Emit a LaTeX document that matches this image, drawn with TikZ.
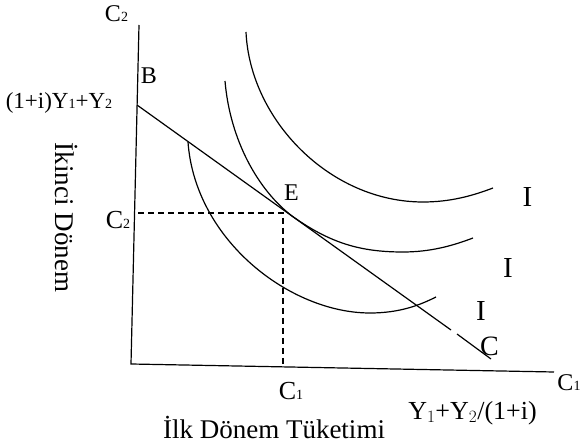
\documentclass[tikz,border=0pt]{standalone}
\usepackage{fontspec}
\setmainfont{Liberation Serif}
\newcommand{\fs}[1]{\fontsize{#1}{#1}\selectfont}
\newcommand{\sm}[1]{{\fontsize{14}{14}\selectfont #1}}
\begin{document}
\begin{tikzpicture}[x=1pt,y=-1pt,
  axis/.style={line width=1.2pt},
  curve/.style={line width=1.2pt},
  guide/.style={line width=1.2pt,dash pattern=on 6pt off 4pt},
  lbl/.style={inner sep=0pt,font=\fs{24}}]
\useasboundingbox (0,0) rectangle (582,446);
% axes
\coordinate (ytop) at (139,25);
\coordinate (orig) at (131,364);
\coordinate (xend) at (554,372);
\draw[axis] (ytop) -- (orig) -- (xend);
% budget line
\coordinate (B) at (137,105);
\coordinate (g1) at (451,330);
\coordinate (g2) at (457,334);
\coordinate (Cend) at (491,359);
\draw[curve] (B) -- (g1);
\draw[curve] (g2) -- (Cend);
% dashed guides
\coordinate (E) at (283,213);
\coordinate (yE) at (138,213);
\coordinate (xE) at (283,366);
\draw[guide] (yE) -- (E) -- (xE);
% indifference curves
\draw[curve] (246,32) .. controls (250,120) and (330,202) .. (423,202)
                      .. controls (450,202) and (472,196) .. (493,188);
\draw[curve] (225,81) .. controls (230,140) and (258,190) .. (292,216)
                      .. controls (330,243) and (360,252) .. (403,252)
                      .. controls (430,252) and (452,246) .. (473,238);
\draw[curve] (188,142) .. controls (195,240) and (290,313) .. (370,313)
                       .. controls (400,313) and (420,305) .. (436,297);
% labels
\node[lbl] (lC2top) at (116.5,14) {C\sm{2}};
\node[lbl] (lB) at (149,76) {B};
\node[lbl,font=\fs{23}] (lBval) at (59,103) {(1+i)Y\sm{1}+Y\sm{2}};
\node[lbl,font=\fs{26}] (lC2) at (118,220) {C\sm{2}};
\node[lbl,rotate=-90,font=\fs{27}] (lyax) at (67,217.5) {İkinci Dönem};
\node[lbl] (lE) at (291.5,193) {E};
\node[lbl,font=\fs{26}] (lC1) at (291,391) {C\sm{1}};
\node[lbl,font=\fs{29}] (lI1) at (527.5,197) {I};
\node[lbl,font=\fs{29}] (lI2) at (508,268) {I};
\node[lbl,font=\fs{29}] (lI3) at (481,311.5) {I};
\node[lbl,font=\fs{28}] (lC) at (489.5,346.5) {C};
\node[lbl,font=\fs{24}] (lC1r) at (569,383) {C\sm{1}};
\node[lbl,font=\fs{26}] (lxval) at (472.5,413) {Y$_1$+Y$_2$/(1+i)};
\node[lbl,font=\fs{27},anchor=base] (lxax) at (274,439) {İlk Dönem Tüketimi};
\end{tikzpicture}
\end{document}
